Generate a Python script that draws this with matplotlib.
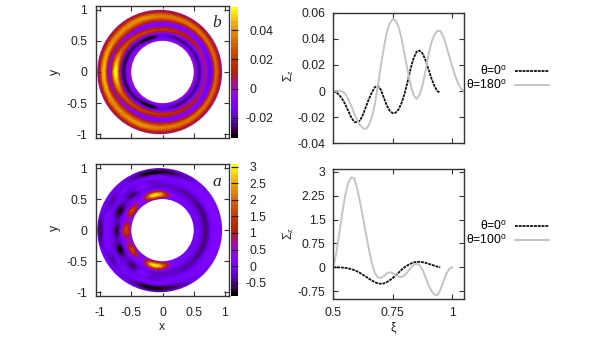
import numpy as np
import matplotlib
matplotlib.use('Agg')
import matplotlib.pyplot as plt
import matplotlib.tri as mtri
from matplotlib.cm import ScalarMappable
from matplotlib.colors import ListedColormap, Normalize
from matplotlib.patches import Circle
from matplotlib.transforms import ScaledTranslation

plt.rcParams['font.family'] = ['Liberation Sans', 'DejaVu Sans']
plt.rcParams['font.size'] = 8.8
plt.rcParams['mathtext.fontset'] = 'custom'
plt.rcParams['mathtext.rm'] = 'Liberation Sans'
plt.rcParams['mathtext.it'] = 'Liberation Serif:italic'
plt.rcParams['mathtext.bf'] = 'Liberation Sans:bold'
plt.rcParams['axes.unicode_minus'] = False

# ---- data ----
field_b = [
 [0,-.006,-.021,-.022,-.006,.004,-.008,-.017,-.006,.025,.030,.014,-.001],
 [0,-.006,-.021,-.022,-.006,.004,-.008,-.017,-.006,.025,.030,.014,-.001],
 [0,-.006,-.021,-.022,-.006,.005,-.007,-.016,-.005,.025,.031,.015,0],
 [0,-.007,-.022,-.020,-.004,.007,-.005,-.014,-.003,.026,.031,.016,0],
 [0,-.008,-.023,-.018,-.002,.010,-.003,-.012,0,.027,.032,.016,0],
 [0,-.009,-.024,-.017,.001,.012,-.002,-.010,.004,.028,.033,.017,0],
 [0,-.010,-.027,-.016,.004,.013,-.003,-.009,.008,.030,.034,.017,0],
 [0,-.011,-.024,-.015,.008,.014,-.004,-.008,.011,.031,.034,.018,0],
 [0,-.012,-.019,-.014,.012,.014,-.005,-.008,.013,.032,.034,.018,0],
 [0,-.012,-.018,-.012,.014,.013,-.006,-.008,.014,.032,.035,.018,0],
 [0,-.014,-.026,-.012,.015,.014,-.006,-.007,.015,.033,.038,.019,0],
 [0,-.016,-.034,-.014,.016,.016,-.005,-.006,.016,.034,.040,.020,0],
 [0,-.014,-.032,-.016,.013,.020,-.003,-.005,.017,.034,.039,.020,0],
 [0,-.010,-.026,-.020,.010,.024,.004,-.004,.017,.034,.038,.020,0],
 [0,-.008,-.022,-.024,.006,.026,.014,-.004,.014,.033,.038,.020,0],
 [0,-.005,-.020,-.027,.004,.028,.024,.002,.010,.032,.040,.020,0],
 [0,-.004,-.019,-.029,.002,.034,.036,.010,.0,.030,.043,.020,0],
 [0,-.003,-.018,-.029,.002,.040,.046,.014,-.004,.030,.045,.020,0],
 [0,-.003,-.018,-.029,.002,.047,.054,.015,-.004,.030,.046,.020,0],
]

field_a = [
 [0,-.02,-.06,-.15,-.33,-.5,-.45,-.15,.05,.15,.16,.08,0],
 [0,-.02,-.06,-.15,-.33,-.5,-.45,-.15,.05,.15,.16,.08,0],
 [0,-.02,-.06,-.15,-.33,-.5,-.45,-.15,.05,.15,.16,.08,0],
 [0,-.02,-.05,-.15,-.32,-.48,-.42,-.14,.05,.14,.14,.04,0],
 [0,-.02,-.04,-.13,-.3,-.45,-.38,-.12,.04,.12,.08,-.02,0],
 [0,0,-.02,-.1,-.28,-.42,-.33,-.1,.04,.08,.0,-.1,0],
 [0,0,0,-.08,-.25,-.38,-.28,-.08,.02,.02,-.1,-.25,-.05],
 [0,.05,.1,-.04,-.22,-.34,-.24,-.05,0,-.05,-.3,-.45,-.1],
 [0,.6,.9,.25,-.15,-.3,-.2,-.05,0,-.05,-.55,-.65,-.1],
 [0,1.4,2.3,1.2,0,-.28,-.2,-.15,0,.02,-.65,-.75,-.1],
 [0,1.8,2.95,1.7,.15,-.3,-.2,-.3,0,.05,-.72,-.8,0],
 [0,1.5,2.5,1.2,.05,-.15,.15,-.05,-.05,.05,-.5,-.6,0],
 [0,.5,.7,.3,-.05,-.2,-.05,-.1,-.1,0,-.2,-.3,0],
 [0,.2,.45,.15,-.1,-.5,-.6,-.3,-.1,0,-.1,-.15,0],
 [0,.8,1.3,.5,-.05,-.2,-.25,-.15,-.1,-.05,-.25,-.1,0],
 [0,1.0,1.6,.7,-.1,-.6,-.7,-.3,-.1,-.3,-.4,-.1,0],
 [0,.4,.65,.25,-.1,-.6,-.6,-.3,-.05,.05,-.1,-.15,0],
 [0,.8,1.0,.45,-.05,-.35,-.3,-.1,0,.1,-.05,-.45,-.1],
 [0,1.1,1.7,1.0,-.1,-.8,-.5,-.1,.1,.1,-.2,-.65,-.2],
]

top_x0 = [.5,.5125,.525,.5375,.55,.5625,.575,.5875,.6,.6125,.625,.6375,.65,.6625,.675,.6875,.7,.7125,.725,.7375,.75,.7625,.775,.7875,.8,.8125,.825,.8375,.85,.8625,.875,.8875,.9,.9125,.925,.9375,.947]
top_y0 = [0,-.001,-.003,-.006,-.010,-.015,-.020,-.0235,-.024,-.0225,-.018,-.012,-.006,-.001,.003,.004,.001,-.005,-.011,-.015,-.017,-.0165,-.014,-.009,-.002,.007,.017,.025,.030,.031,.029,.024,.017,.010,.004,0,-.001]
top_x1 = [.5,.5125,.525,.5375,.55,.5625,.575,.5875,.6,.6125,.625,.6375,.65,.6625,.675,.6875,.7,.7125,.725,.7375,.75,.7625,.775,.7875,.8,.8125,.825,.8375,.85,.8625,.875,.8875,.9,.9125,.925,.9375,.95,.9625,.975,.9875,1.0,1.0125,1.025,1.0375,1.048]
top_y1 = [0,.0002,.0003,-.0002,-.002,-.006,-.011,-.017,-.022,-.026,-.0285,-.029,-.026,-.020,-.010,.004,.019,.033,.045,.052,.055,.054,.049,.040,.028,.016,.005,-.003,-.006,-.003,.004,.015,.027,.037,.043,.046,.046,.042,.035,.027,.019,.012,.006,.002,0]

bot_x0 = [.5,.525,.55,.5625,.575,.5875,.6,.6125,.625,.6375,.65,.6625,.675,.6875,.7,.7125,.725,.7375,.75,.7625,.775,.7875,.8,.8125,.825,.8375,.85,.8625,.875,.8875,.9,.9125,.925,.9375,.95]
bot_y0 = [0,-.005,-.02,-.035,-.06,-.09,-.13,-.18,-.24,-.3,-.36,-.42,-.47,-.51,-.52,-.51,-.47,-.41,-.34,-.26,-.17,-.08,0,.06,.11,.15,.165,.17,.16,.14,.11,.08,.05,.02,0]
bot_x1 = [.5,.5125,.525,.5375,.55,.5625,.575,.5875,.6,.6125,.625,.6375,.65,.6625,.675,.6875,.7,.7125,.725,.7375,.75,.7625,.775,.7875,.8,.8125,.825,.8375,.85,.8625,.875,.8875,.9,.9125,.925,.9375,.95,.9625,.975,.9875,1.0]
bot_y1 = [0,.45,1.05,1.7,2.25,2.65,2.83,2.8,2.5,2.05,1.55,1.05,.55,.12,-.18,-.32,-.34,-.28,-.2,-.16,-.18,-.24,-.3,-.31,-.25,-.15,-.03,.07,.11,.07,-.07,-.3,-.55,-.74,-.86,-.88,-.72,-.47,-.22,-.05,0]

map_ticks_xy = [-1, -.5, 0, .5, 1]
map_tick_labels = ['-1', '-0.5', '0', '0.5', '1']
cb_b_ticks = [-.02, 0, .02, .04]
cb_b_labels = ['-0.02', '0', '0.02', '0.04']
cb_a_ticks = [-.5, 0, .5, 1, 1.5, 2, 2.5, 3]
cb_a_labels = ['-0.5', '0', '0.5', '1', '1.5', '2', '2.5', '3']
top_yticks = [-.04, -.02, 0, .02, .04, .06]
top_ylabels = ['-0.04', '-0.02', '0', '0.02', '0.04', '0.06']
bot_yticks = [-.75, 0, .75, 1.5, 2.25, 3]
bot_ylabels = ['-0.75', '0', '0.75', '1.5', '2.25', '3']
xi_ticks = [.5, .75, 1]
xi_labels = ['0.5', '0.75', '1']

# ---- style ----
W, H = 600, 350
EDGE = '#333333'
GRAY = '#c4c4c4'

def rect(x0, y0, x1, y1):
    return [x0 / W, 1 - y1 / H, (x1 - x0) / W, (y1 - y0) / H]

# gnuplot pm3d default palette (rgbformulae 7,5,15)
_s = np.linspace(0, 1, 256)
pm3d = ListedColormap(np.c_[np.sqrt(_s), _s**3, np.clip(np.sin(2 * np.pi * _s), 0, 1)])
pm3d_bands = pm3d.resampled(36)

fig = plt.figure(figsize=(6, 3.5), dpi=100)

def style(ax, xticks, xlabels, yticks, ylabels, ypad, xpad):
    ax.set_xticks(xticks)
    ax.set_xticklabels(xlabels)
    ax.set_yticks(yticks)
    ax.set_yticklabels(ylabels)
    ax.tick_params(direction='in', length=3.5, width=0.8, top=True, right=True,
                   color=EDGE, labelcolor='#222222')
    ax.tick_params(axis='y', pad=ypad)
    ax.tick_params(axis='x', pad=xpad)
    for s in ax.spines.values():
        s.set_color(EDGE)
        s.set_linewidth(1.0)

def annulus(ax, cax, field, vmin, vmax, cticks, clabels, letter, xlabels):
    upper = np.array(field, dtype=float)
    full = np.vstack([upper, upper[-2:0:-1], upper[:1]])
    nth, nt = full.shape
    ii, jj = np.meshgrid(np.arange(nth), np.arange(nt), indexing='ij')
    idx = lambda a, b: a * nt + b
    tris = []
    for a in range(nth - 1):
        for b in range(nt - 1):
            tris.append([idx(a, b), idx(a + 1, b), idx(a + 1, b + 1)])
            tris.append([idx(a, b), idx(a + 1, b + 1), idx(a, b + 1)])
    base = mtri.Triangulation(ii.ravel().astype(float), jj.ravel().astype(float), tris)
    fine, zf = mtri.UniformTriRefiner(base).refine_field(full.ravel(), subdiv=3)
    th = np.deg2rad(fine.x * 10.0)
    t = fine.y / (nt - 1)
    X = (1 - t) * 0.5 * np.cos(th) + t * (-0.045 + np.cos(th))
    Y = (1 - t) * 0.5 * np.sin(th) + t * np.sin(th)
    ax.tripcolor(X, Y, fine.triangles, np.clip(zf, vmin, vmax), shading='gouraud',
                 cmap=pm3d_bands, vmin=vmin, vmax=vmax, zorder=1)
    # crisp, antialiased rims of the annulus
    ax.add_patch(Circle((0, 0), 0.5, fc='white', ec='none', zorder=2))
    ax.add_patch(Circle((-0.045, 0), 1.009, fc='none', ec='white', lw=0.85, zorder=2))
    ax.set_xlim(-1.06, 1.06)
    ax.set_ylim(-1.06, 1.06)
    style(ax, map_ticks_xy, xlabels, map_ticks_xy, map_tick_labels, 6.5, 8)
    ax.text(0.87, 0.78, letter, family='Liberation Serif', style='italic', fontsize=12.5,
            ha='center', va='center', color='#222222', zorder=3)
    cb = fig.colorbar(ScalarMappable(Normalize(vmin, vmax), pm3d_bands), cax=cax)
    cb.outline.set_visible(False)
    cax.set_yticks(cticks)
    cax.set_yticklabels(clabels, ha='left')
    cax.tick_params(direction='in', length=3.6, width=0.8, color='#222222', left=True,
                    right=True, pad=8, labelcolor='#222222')
    shift = ScaledTranslation(-3.7 / 100, 0, fig.dpi_scale_trans)
    for lab, s in zip(cax.get_yticklabels(), clabels):
        if s.startswith('-'):
            lab.set_transform(lab.get_transform() + shift)

ax_b = fig.add_axes(rect(96.3, 6, 228.7, 138))
cax_b = fig.add_axes(rect(231.3, 6.7, 238.3, 137.7))
annulus(ax_b, cax_b, field_b, -.0336, .056, cb_b_ticks, cb_b_labels, 'b', [])

ax_a = fig.add_axes(rect(96.3, 164.3, 228.7, 296))
cax_a = fig.add_axes(rect(231.3, 164.3, 238.3, 296))
annulus(ax_a, cax_a, field_a, -.9, 3.07, cb_a_ticks, cb_a_labels, 'a', map_tick_labels)

def curves(ax, x0, y0, x1, y1, lab0, lab1, ylim, yticks, ylabels, xlabels):
    ax.plot(x0, y0, color='#111111', lw=1.3, ls=(0, (1.6, 0.5)), label=lab0)
    ax.plot(x1, y1, color=GRAY, lw=1.4, label=lab1)
    ax.set_xlim(.5, 1.05)
    ax.set_ylim(*ylim)
    style(ax, xi_ticks, xlabels, yticks, ylabels, 5.6, 5.5)

ax_t = fig.add_axes(rect(333.3, 12.7, 464, 143.3))
curves(ax_t, top_x0, top_y0, top_x1, top_y1, r'θ=0$^{\mathrm{o}}$', r'θ=180$^{\mathrm{o}}$',
       (-.04, .06), top_yticks, top_ylabels, [])
ax_b2 = fig.add_axes(rect(333.3, 168.7, 464, 299))
curves(ax_b2, bot_x0, bot_y0, bot_x1, bot_y1, r'θ=0$^{\mathrm{o}}$', r'θ=100$^{\mathrm{o}}$',
       (-1, 3.1), bot_yticks, bot_ylabels, xi_labels)

for ax, yc in ((ax_t, 78.5), (ax_b2, 233.5)):
    ax.legend(loc='center left', bbox_to_anchor=(466.5 / W, 1 - yc / H), bbox_transform=fig.transFigure,
              frameon=False, markerfirst=False, handlelength=2.8, handletextpad=0.62,
              labelspacing=0.05, borderpad=0, borderaxespad=0, fontsize=8.8)

txt = dict(ha='center', va='center', color='#222222', fontsize=8.8)
fig.text(55 / W, 1 - 72 / H, 'y', rotation=90, **txt)
fig.text(55 / W, 1 - 228 / H, 'y', rotation=90, **txt)
fig.text(162 / W, 1 - 327 / H, 'x', **txt)
fig.text(289 / W, 1 - 76 / H, r'$\Sigma_z$', rotation=90, **txt)
fig.text(289 / W, 1 - 234 / H, r'$\Sigma_z$', rotation=90, **txt)
fig.text(393 / W, 1 - 327 / H, 'ξ', **txt)

fig.savefig('out.png', dpi=100)
